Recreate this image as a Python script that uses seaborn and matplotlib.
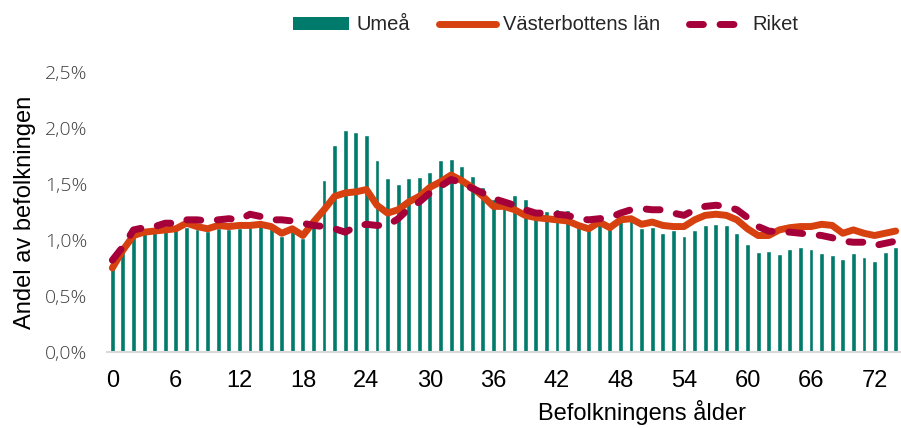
import numpy as np
import pandas as pd
import matplotlib
matplotlib.use("Agg")
import matplotlib.pyplot as plt
from matplotlib.patches import Patch
from matplotlib.lines import Line2D
from matplotlib.ticker import FuncFormatter
import seaborn as sns

# Andel av befolkningen (%) per ålder 0-74
ages = list(range(75))

umea = [0.75, 0.92, 1.04, 1.06, 1.07, 1.08, 1.09, 1.12, 1.10, 1.08, 1.11, 1.10, 1.11, 1.12, 1.13, 1.12,
        1.04, 1.09, 1.02, 1.20, 1.54, 1.85, 1.98, 1.96, 1.94, 1.71, 1.55, 1.50, 1.55, 1.56,
        1.61, 1.71, 1.72, 1.66, 1.57, 1.47, 1.37, 1.37, 1.40, 1.37, 1.28, 1.26, 1.28, 1.27,
        1.15, 1.10, 1.22, 1.11, 1.18, 1.18, 1.11, 1.12, 1.06, 1.09, 1.04, 1.09, 1.13, 1.14,
        1.13, 1.06, 0.96, 0.89, 0.90, 0.875, 0.92, 0.94, 0.92, 0.88, 0.87, 0.83, 0.88, 0.85,
        0.81, 0.89, 0.94]

vasterbotten = [0.75, 0.91, 1.04, 1.07, 1.08, 1.09, 1.10, 1.15, 1.12, 1.10, 1.13, 1.12, 1.13, 1.13,
                1.14, 1.12, 1.06, 1.10, 1.04, 1.16, 1.27, 1.39, 1.42, 1.43, 1.45, 1.31, 1.24, 1.27,
                1.34, 1.39, 1.47, 1.52, 1.58, 1.53, 1.47, 1.39, 1.30, 1.30, 1.27, 1.22, 1.20, 1.19,
                1.18, 1.17, 1.13, 1.10, 1.16, 1.11, 1.18, 1.19, 1.14, 1.16, 1.13, 1.12, 1.12, 1.18,
                1.22, 1.23, 1.22, 1.18, 1.10, 1.04, 1.04, 1.09, 1.11, 1.12, 1.12, 1.14, 1.13, 1.06,
                1.09, 1.06, 1.04, 1.06, 1.08]

riket = [0.82, 0.94, 1.09, 1.11, 1.12, 1.15, 1.15, 1.18, 1.18, 1.17, 1.18, 1.19, 1.18, 1.23, 1.21,
         1.18, 1.18, 1.17, 1.15, 1.13, 1.12, 1.10, 1.07, 1.12, 1.14, 1.13, 1.13, 1.19, 1.28,
         1.34, 1.42, 1.48, 1.54, 1.51, 1.46, 1.42, 1.37, 1.34, 1.31, 1.27, 1.24, 1.24, 1.23,
         1.22, 1.19, 1.18, 1.19, 1.20, 1.24, 1.27, 1.28, 1.27, 1.27, 1.24, 1.22, 1.27, 1.30,
         1.31, 1.30, 1.27, 1.20, 1.12, 1.08, 1.07, 1.07, 1.06, 1.05, 1.04, 1.02, 0.99, 0.98,
         0.98, 0.95, 0.97, 0.99]

x_ticks = list(range(0, 75, 6))

TEAL = "#007b6b"
ORANGE = "#d6410f"
CRIMSON = "#a5003a"
LW = 5.0

sns.set_style("white")
plt.rcParams['font.family'] = ['Liberation Sans', 'DejaVu Sans']

df = pd.DataFrame({"age": ages, "Umeå": umea, "Västerbottens län": vasterbotten, "Riket": riket})

fig = plt.figure(figsize=(9.01, 4.28), dpi=100)
ax = fig.add_axes([0.1188, 0.1776, 0.8812, 0.6542])

sns.barplot(data=df, x="age", y="Umeå", color=TEAL, width=0.46, saturation=1, ax=ax)
sns.lineplot(x=np.arange(len(ages)), y=df["Västerbottens län"], color=ORANGE, lw=LW,
             solid_capstyle="round", solid_joinstyle="round", ax=ax)
riket_line = sns.lineplot(x=np.arange(len(ages)), y=df["Riket"], color=CRIMSON, lw=LW, ax=ax).lines[-1]
riket_line.set_dashes((2.0, 2.4))
riket_line.set_dash_capstyle("round")

ax.set_xlim(-0.5, len(ages) - 0.5)
ax.set_ylim(0, 2.5)
ax.set_yticks([0, 0.5, 1.0, 1.5, 2.0, 2.5])
ax.yaxis.set_major_formatter(FuncFormatter(lambda v, p: f"{v:.1f}%".replace(".", ",")))
ax.set_xticks([ages.index(t) for t in x_ticks])
ax.set_xticklabels([str(t) for t in x_ticks])

ax.tick_params(axis="x", length=0, pad=13, labelsize=17, labelcolor="black")
ax.tick_params(axis="y", length=0, pad=14, labelsize=14, labelcolor="#404040")
for lbl in ax.get_yticklabels():
    lbl.set_family(['Open Sans', 'DejaVu Sans'])
    lbl.set_fontweight('light')

for s in ["top", "right", "left"]:
    ax.spines[s].set_visible(False)
ax.spines["bottom"].set_color("#d9d9d9")
ax.spines["bottom"].set_linewidth(1.5)

ax.set_xlabel("Befolkningens ålder", fontsize=17, color="black")
ax.xaxis.set_label_coords(0.674, -0.17)
ax.set_ylabel("Andel av befolkningen", fontsize=17, color="black")
ax.yaxis.set_label_coords(-0.09, 0.5)

handles = [
    Patch(facecolor=TEAL, edgecolor="none"),
    Line2D([0], [0], color=ORANGE, lw=LW, solid_capstyle="round"),
    Line2D([0], [0], color=CRIMSON, lw=LW, dashes=(2.0, 2.4), dash_capstyle="round"),
]
fig.legend(handles, ["Umeå", "Västerbottens län", "Riket"], loc="center left",
           bbox_to_anchor=(293 / 901, 1 - 25 / 428), ncol=3, frameon=False,
           prop={"size": 14.5},
           handlelength=2.8, handleheight=0.6, handletextpad=0.35, columnspacing=1.45,
           borderpad=0, borderaxespad=0)

fig.savefig("out.png", dpi=100)
